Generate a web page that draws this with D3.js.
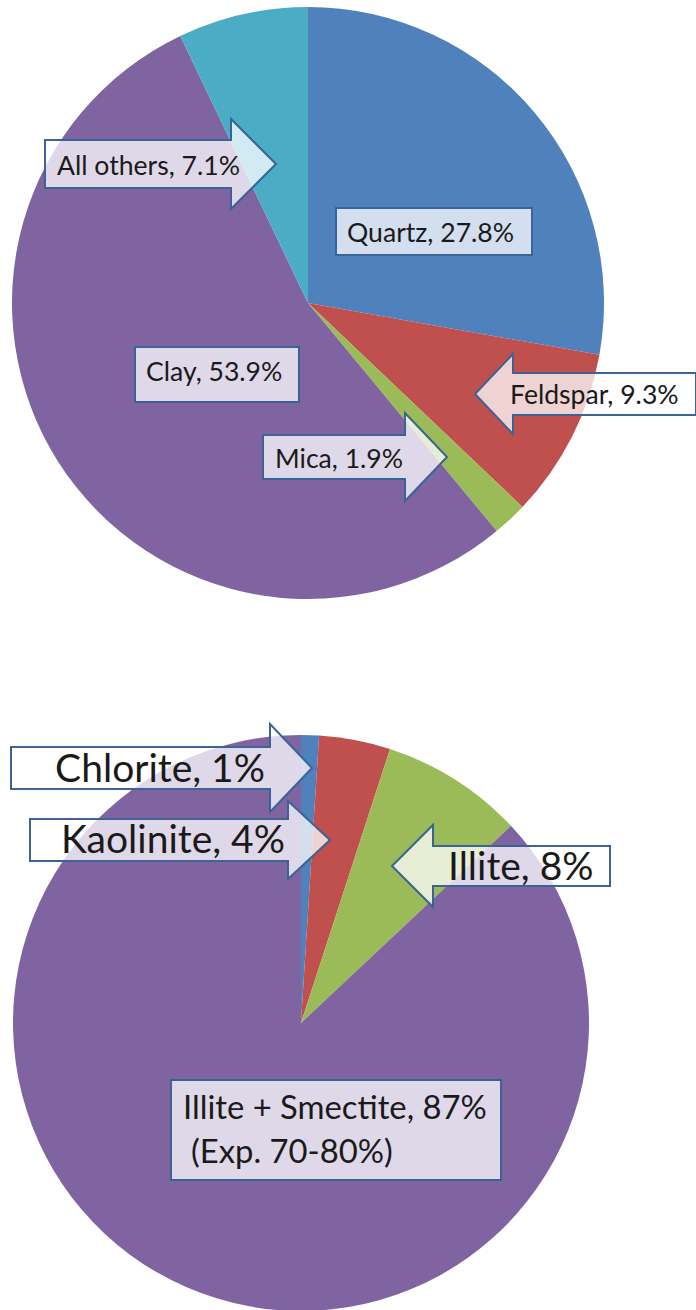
<!DOCTYPE html>
<html>
<head>
<meta charset="utf-8">
<script src="https://cdn.jsdelivr.net/npm/d3@7"></script>
<style>
  html, body { margin: 0; padding: 0; background: #fff; }
  svg { display: block; }
  .lbl { font-family: Lato, 'Open Sans', sans-serif; fill: #1a1a1a; }
  .callout { fill: #fff; fill-opacity: 0.75; stroke: #3b6394; stroke-width: 2; stroke-linejoin: miter; }
</style>
</head>
<body>
<svg id="chart"></svg>
<script>
'use strict';

// top pie: bulk mineralogy
var mineralNames = ['Quartz', 'Feldspar', 'Mica', 'Clay', 'All others'];
var mineralValues = [27.8, 9.3, 1.9, 53.9, 7.1];

// bottom pie: clay mineralogy
var clayNames = ['Chlorite', 'Kaolinite', 'Illite', 'Illite + Smectite'];
var clayValues = [1, 4, 8, 87];

var colors = ['#4f81bd', '#c0504d', '#9bbb59', '#8064a2', '#4bacc6'];

var WIDTH = 696,
  HEIGHT = 1310;

// callout layout (box / arrow shapes and text placement)
var mineralCallouts = [
  { type: 'box', x0: 336, x1: 532, y0: 208, y1: 255, tx: 347, ty: 242, size: 26.6, lines: ['Quartz, 27.8%'] },
  { type: 'left', tip: 475, base: 513, x1: 696, cy: 394, bh: 21, hh: 40, tx: 510, ty: 404, size: 26.6, lines: ['Feldspar, 9.3%'] },
  { type: 'right', x0: 263, base: 405, tip: 447, cy: 457, bh: 22, hh: 44, tx: 275, ty: 468, size: 26.6, lines: ['Mica, 1.9%'] },
  { type: 'box', x0: 135, x1: 299, y0: 347, y1: 402, tx: 146, ty: 381, size: 26.6, lines: ['Clay, 53.9%'] },
  { type: 'right', x0: 45, base: 231, tip: 276, cy: 164, bh: 24, hh: 45, tx: 57, ty: 175, size: 26.6, lines: ['All others, 7.1%'] }
];

var clayCallouts = [
  { type: 'right', x0: 11, base: 270, tip: 312, cy: 768, bh: 21, hh: 44, tx: 265, ty: 782, anchor: 'end', size: 39, lines: ['Chlorite, 1%'] },
  { type: 'right', x0: 30, base: 288, tip: 330, cy: 840, bh: 21, hh: 39, tx: 285, ty: 853, anchor: 'end', size: 39, lines: ['Kaolinite, 4%'] },
  { type: 'left', tip: 392, base: 433, x1: 610, cy: 866, bh: 20, hh: 41, tx: 448, ty: 880, size: 39, lines: ['Illite, 8%'] },
  { type: 'box', x0: 171, x1: 501, y0: 1080, y1: 1180, tx: 183, ty: 1119, size: 32.8, lineGap: 44, indent: [0, 8], lines: ['Illite + Smectite, 87%', '(Exp. 70-80%)'] }
];

var svg = d3.select('#chart')
  .attr('width', WIDTH)
  .attr('height', HEIGHT);

drawPie(mineralNames, mineralValues, { cx: 308, cy: 303, r: 296 });
drawPie(clayNames, clayValues, { cx: 301, cy: 1023, r: 288 });

drawCallouts(mineralCallouts);
drawCallouts(clayCallouts);


function drawPie(names, values, geo) {
  var pie = d3.pie()
    .sort(null)
    .value(function(d) { return d; });

  var arc = d3.arc()
    .innerRadius(0)
    .outerRadius(geo.r);

  var color = d3.scaleOrdinal()
    .domain(names)
    .range(colors);

  var g = svg.append('g')
    .attr('transform', 'translate(' + geo.cx + ',' + geo.cy + ')');

  g.selectAll('path')
    .data(pie(values))
    .enter()
    .append('path')
    .attr('d', arc)
    .attr('fill', function(d, i) { return color(names[i]); });
}


function calloutPath(c) {
  var p;
  if (c.type === 'right') {
    p = [
      [c.x0, c.cy - c.bh], [c.base, c.cy - c.bh], [c.base, c.cy - c.hh], [c.tip, c.cy],
      [c.base, c.cy + c.hh], [c.base, c.cy + c.bh], [c.x0, c.cy + c.bh]
    ];
  } else if (c.type === 'left') {
    p = [
      [c.x1, c.cy - c.bh], [c.base, c.cy - c.bh], [c.base, c.cy - c.hh], [c.tip, c.cy],
      [c.base, c.cy + c.hh], [c.base, c.cy + c.bh], [c.x1, c.cy + c.bh]
    ];
  } else {
    p = [[c.x0, c.y0], [c.x1, c.y0], [c.x1, c.y1], [c.x0, c.y1]];
  }
  return 'M' + p.map(function(q) { return q.join(','); }).join('L') + 'Z';
}


function drawCallouts(list) {
  var g = svg.append('g').attr('class', 'callouts');

  var items = g.selectAll('.item')
    .data(list)
    .enter()
    .append('g')
    .attr('class', 'item');

  items.append('path')
    .attr('class', 'callout')
    .attr('d', calloutPath)
    .attr('stroke-width', function(d) { return d.type === 'box' ? 2.5 : 2; });

  items.each(function(d) {
    var sel = d3.select(this);
    d.lines.forEach(function(line, i) {
      sel.append('text')
        .attr('class', 'lbl')
        .attr('x', d.tx + (d.indent ? d.indent[i] : 0))
        .attr('y', d.ty + i * (d.lineGap || 0))
        .attr('text-anchor', d.anchor || 'start')
        .style('font-size', d.size + 'px')
        .text(line);
    });
  });
}
</script>
</body>
</html>
